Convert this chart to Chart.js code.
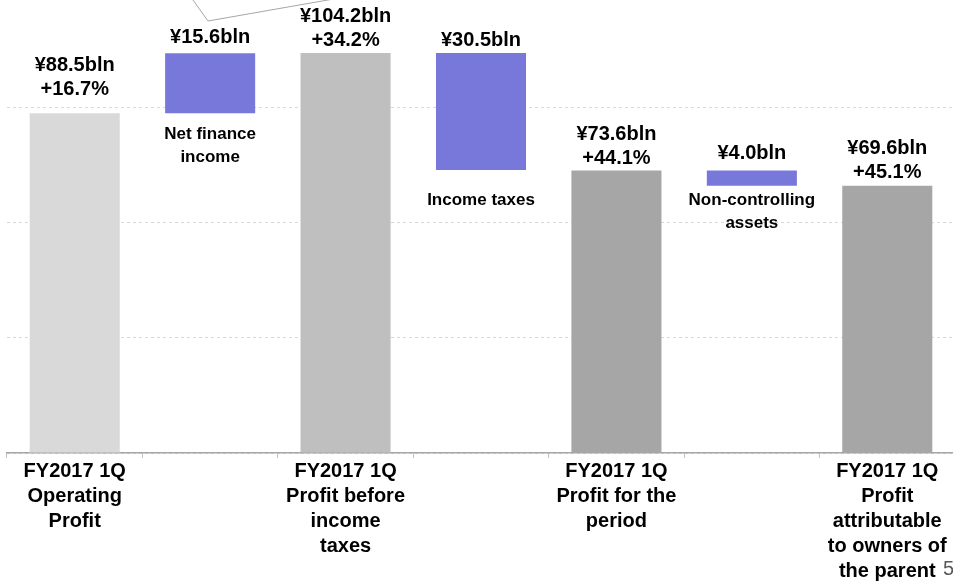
<!DOCTYPE html>
<html>
<head>
<meta charset="utf-8">
<script src="https://cdn.jsdelivr.net/npm/chart.js@4.4.1/dist/chart.umd.min.js"></script>
<style>
  html, body { margin: 0; padding: 0; background: #fff; overflow: hidden; }
  #wrap { position: relative; width: 960px; height: 583px; }
  #callout { position: absolute; left: 0; top: 0; }
  #page { position: absolute; left: 943px; top: 557px; font: 20px "Liberation Sans", Arial, sans-serif; color: #595959; }
</style>
</head>
<body>
<div id="wrap">
  <canvas id="chart" width="960" height="583"></canvas>
  <svg id="callout" width="953" height="40"><polyline points="193,0 208,21 345,-3" fill="none" stroke="#A6A6A6" stroke-width="1"/></svg>
  <div id="page">5</div>
</div>
<script>
// waterfall: totals and the changes between them (¥ bln)
const categories = [
  ['FY2017 1Q', 'Operating', 'Profit'],
  '',
  ['FY2017 1Q', 'Profit before', 'income', 'taxes'],
  '',
  ['FY2017 1Q', 'Profit for the', 'period'],
  '',
  ['FY2017 1Q', 'Profit', 'attributable', 'to owners of', 'the parent']
];
const steps = [88.5, 15.6, 104.2, -30.5, 73.6, -4.0, 69.6];
const isTotal = [true, false, true, false, true, false, true];
const valueLabels = ['¥88.5bln', '¥15.6bln', '¥104.2bln', '¥30.5bln', '¥73.6bln', '¥4.0bln', '¥69.6bln'];
const growthLabels = ['+16.7%', null, '+34.2%', null, '+44.1%', null, '+45.1%'];
const itemLabels = [null, ['Net finance', 'income'], null, ['Income taxes'], null, ['Non-controlling', 'assets'], null];

const colors = ['#D9D9D9', '#7878DB', '#BFBFBF', '#7878DB', '#A6A6A6', '#7878DB', '#A6A6A6'];
const labelLift = [24, 16, 12, 12, 12, 17, 13];
const itemDrop = [0, 21, 0, 30, 0, 15, 0];
const FONT = '"Liberation Sans", Arial, sans-serif';

// build floating bars
const floating = [];
let running = 0;
steps.forEach((v, i) => {
  if (isTotal[i]) {
    floating.push([0, v]);
    running = v;
  } else {
    floating.push([running, running + v]);
    running = running + v;
  }
});

const barLabels = {
  id: 'barLabels',
  afterDatasetsDraw(chart) {
    const ctx = chart.ctx;
    const meta = chart.getDatasetMeta(0);
    ctx.save();
    ctx.fillStyle = '#000';
    ctx.textAlign = 'center';
    ctx.textBaseline = 'middle';
    meta.data.forEach((bar, i) => {
      const top = Math.min(bar.y, bar.base);
      const bottom = Math.max(bar.y, bar.base);
      ctx.font = 'bold 20px ' + FONT;
      let y = top - labelLift[i];
      if (growthLabels[i]) {
        ctx.fillText(growthLabels[i], bar.x, y);
        y -= 24;
      }
      ctx.fillText(valueLabels[i], bar.x, y);
      if (itemLabels[i]) {
        ctx.font = 'bold 17px ' + FONT;
        itemLabels[i].forEach((line, k) => {
          ctx.fillText(line, bar.x, bottom + itemDrop[i] + k * 23);
        });
      }
    });
    ctx.restore();
  }
};

const ctx = document.getElementById('chart').getContext('2d');
new Chart(ctx, {
  type: 'bar',
  data: {
    labels: categories,
    datasets: [{
      data: floating,
      backgroundColor: colors,
      borderWidth: 0,
      barPercentage: 0.665,
      categoryPercentage: 1
    }]
  },
  options: {
    responsive: false,
    animation: false,
    layout: { padding: { left: 7, right: 5, top: 0, bottom: 0 } },
    plugins: { legend: { display: false }, tooltip: { enabled: false } },
    scales: {
      x: {
        offset: true,
        grid: { offset: true, drawOnChartArea: false, drawTicks: true, tickLength: 5, color: '#BFBFBF' },
        border: { color: '#A6A6A6', width: 1.5 },
        ticks: {
          autoSkip: false,
          maxRotation: 0,
          padding: 1,
          color: '#000',
          font: { family: FONT, size: 20, weight: 'bold', lineHeight: '25px' }
        },
        afterFit(scale) { scale.height = 130; }
      },
      y: {
        min: 0,
        max: 118,
        ticks: { display: false, stepSize: 30 },
        grid: {
          color: c => (c.tick && c.tick.value % 30 === 0) ? '#D9D9D9' : 'rgba(0,0,0,0)',
          drawTicks: false,
          tickLength: 0
        },
        border: { display: false, dash: [3, 3] },
        afterFit(scale) { scale.width = 0; }
      }
    }
  },
  plugins: [barLabels]
});
</script>
</body>
</html>
